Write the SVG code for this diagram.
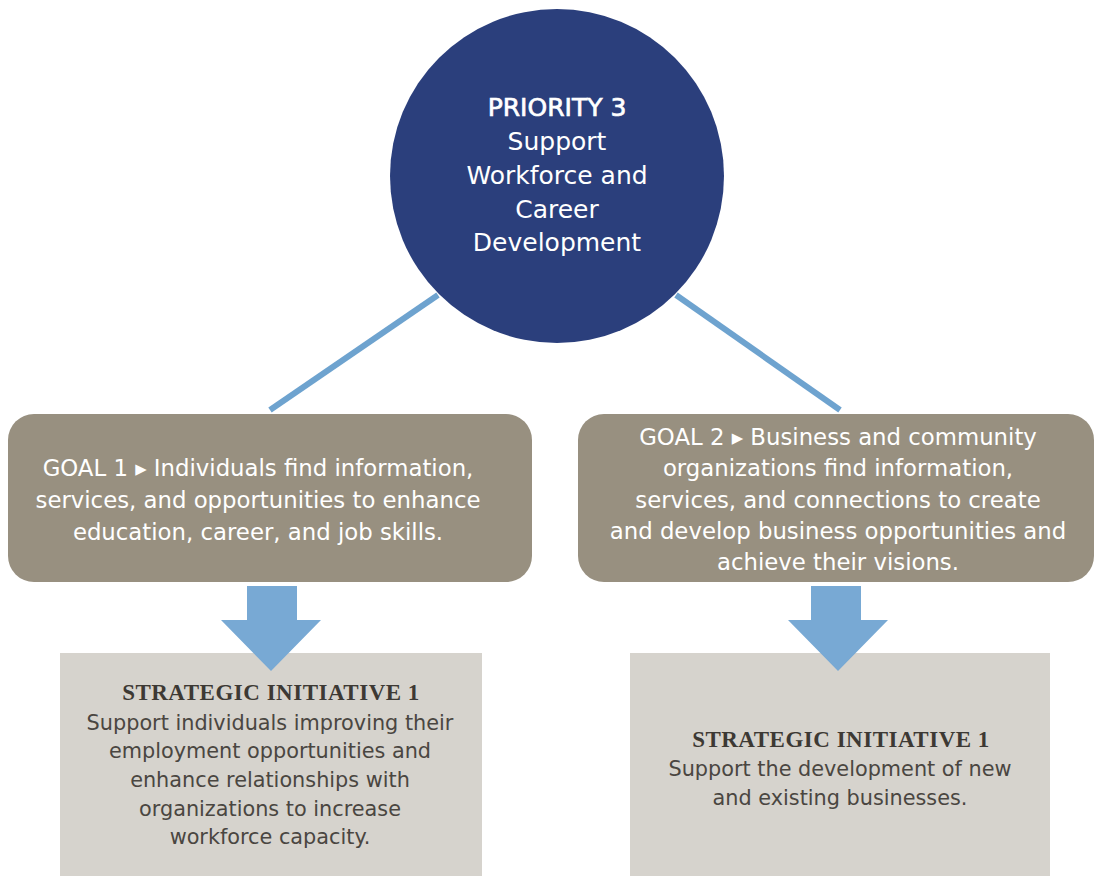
<svg xmlns="http://www.w3.org/2000/svg" width="1094" height="876" viewBox="0 0 1094 876">
<style>
.w{font-family:"DejaVu Sans",sans-serif;fill:#ffffff;text-anchor:middle}
.c{font-size:25px}
.g{font-size:22.8px}
.hd{font-family:"Liberation Serif",serif;font-weight:bold;font-size:23px;letter-spacing:0.5px;fill:#3d3934;text-anchor:middle}
.b{font-family:"DejaVu Sans",sans-serif;font-size:20.8px;fill:#4a4641;text-anchor:middle}
.goal{fill:#989080}
.si{fill:#d6d3cd}
.arr{fill:#78a9d4}
.ln{stroke:#6ea3cf;stroke-width:6;fill:none}
</style>
<rect width="1094" height="876" fill="#ffffff"/>
<g id="connectors">
<line class="ln" x1="438" y1="295" x2="270" y2="410"/>
<line class="ln" x1="676" y1="295" x2="840" y2="410"/>
</g>
<g id="priority">
<circle cx="557" cy="176" r="167" fill="#2b3f7c"/>
<text class="w c" x="557" y="116" stroke="#ffffff" stroke-width="0.7">PRIORITY 3</text>
<text class="w c" x="557" y="150">Support</text>
<text class="w c" x="557" y="184">Workforce and</text>
<text class="w c" x="557" y="218">Career</text>
<text class="w c" x="557" y="251">Development</text>
</g>
<g id="goal1">
<rect class="goal" x="8" y="414" width="524" height="168" rx="26"/>
<text class="w g" x="258" y="476">GOAL 1 ▸ Individuals find information,</text>
<text class="w g" x="258" y="508">services, and opportunities to enhance</text>
<text class="w g" x="258" y="540">education, career, and job skills.</text>
</g>
<g id="goal2">
<rect class="goal" x="578" y="414" width="516" height="168" rx="26"/>
<text class="w g" x="838" y="445">GOAL 2 ▸ Business and community</text>
<text class="w g" x="838" y="476">organizations find information,</text>
<text class="w g" x="838" y="508">services, and connections to create</text>
<text class="w g" x="838" y="539">and develop business opportunities and</text>
<text class="w g" x="838" y="570">achieve their visions.</text>
</g>
<g id="si1">
<rect class="si" x="60" y="653" width="422" height="223"/>
<text class="hd" x="271" y="700">STRATEGIC INITIATIVE 1</text>
<text class="b" x="270" y="730">Support individuals improving their</text>
<text class="b" x="270" y="758">employment opportunities and</text>
<text class="b" x="270" y="787">enhance relationships with</text>
<text class="b" x="270" y="816">organizations to increase</text>
<text class="b" x="270" y="844">workforce capacity.</text>
</g>
<g id="si2">
<rect class="si" x="630" y="653" width="420" height="223"/>
<text class="hd" x="841" y="747">STRATEGIC INITIATIVE 1</text>
<text class="b" x="840" y="776">Support the development of new</text>
<text class="b" x="840" y="805">and existing businesses.</text>
</g>
<g id="arrows">
<polygon class="arr" points="247,586 297,586 297,620 321,620 271,671 221,620 247,620"/>
<polygon class="arr" points="811,586 861,586 861,620 888,620 838,671 788,620 811,620"/>
</g>
</svg>
